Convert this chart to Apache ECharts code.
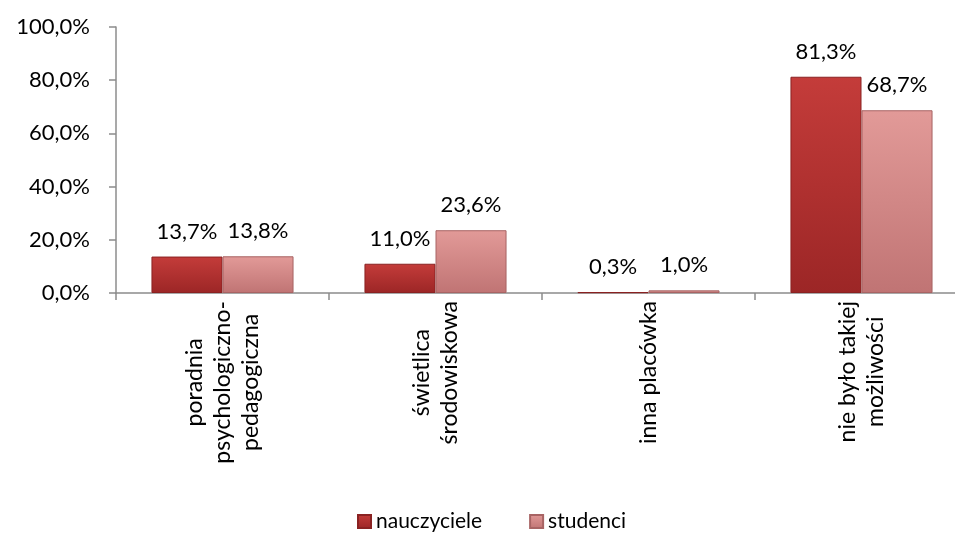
<!DOCTYPE html>
<html>
<head>
<meta charset="utf-8">
<script src="https://cdn.jsdelivr.net/npm/echarts@6/dist/echarts.min.js"></script>
<style>
  html, body { margin: 0; padding: 0; background: #fff; }
  #chart { width: 955px; height: 533px; }
</style>
</head>
<body>
<div id="chart"></div>
<script>
// dane
const categories = [
  'poradnia\npsychologiczno-\npedagogiczna',
  'świetlica\nśrodowiskowa',
  'inna placówka',
  'nie było takiej\nmożliwości'
];
const nauczyciele = [13.7, 11.0, 0.3, 81.3];
const studenci = [13.8, 23.6, 1.0, 68.7];
const yTicks = [0, 20, 40, 60, 80, 100];

const FONT = 'Lato, "Open Sans", sans-serif';
const pct = (v) => v.toFixed(1).replace('.', ',') + '%';

const chart = echarts.init(document.getElementById('chart'));

function barColor(top, bottom) {
  return new echarts.graphic.LinearGradient(0, 0, 0, 1, [
    { offset: 0, color: top },
    { offset: 1, color: bottom }
  ]);
}

const dataLabel = {
  show: true,
  position: 'top',
  distance: 14,
  color: '#000',
  fontSize: 22,
  fontFamily: FONT,
  formatter: (p) => pct(p.value)
};

chart.setOption({
  animation: false,
  textStyle: { fontFamily: FONT },
  grid: { left: 116, top: 27, width: 852, bottom: 240, outerBoundsMode: 'none', containLabel: false },
  legend: {
    bottom: -4,
    left: 352,
    itemWidth: 13,
    itemHeight: 13,
    itemGap: 47,
    icon: 'rect',
    textStyle: { fontSize: 21, color: '#000', fontFamily: FONT },
    data: ['nauczyciele', 'studenci']
  },
  xAxis: {
    type: 'category',
    data: categories,
    axisLine: { lineStyle: { color: '#8c8c8c', width: 1.5 } },
    axisTick: { show: true, length: 7, lineStyle: { color: '#8c8c8c', width: 1.5 } },
    axisLabel: {
      rotate: 90,
      margin: 8,
      interval: 0,
      color: '#000',
      fontSize: 23,
      lineHeight: 28,
      fontFamily: FONT,
      formatter: (v) => v.split('\n').map((l) => '{c|' + l + '}').join('\n'),
      rich: { c: { align: 'center', fontSize: 23, lineHeight: 28, color: '#000', fontFamily: FONT } }
    }
  },
  yAxis: {
    type: 'value',
    min: yTicks[0],
    max: yTicks[yTicks.length - 1],
    interval: 20,
    splitLine: { show: false },
    axisLine: { show: true, lineStyle: { color: '#8c8c8c', width: 1.5 } },
    axisTick: { show: true, length: 7, lineStyle: { color: '#8c8c8c', width: 1.5 } },
    axisLabel: {
      margin: 26,
      color: '#000',
      fontSize: 22,
      fontFamily: FONT,
      formatter: (v) => pct(v)
    }
  },
  series: [
    {
      name: 'nauczyciele',
      type: 'bar',
      data: nauczyciele,
      barGap: '0%',
      barCategoryGap: '33.3%',
      itemStyle: {
        color: barColor('#c43c3a', '#9c2626'),
        borderColor: '#8a2222',
        borderWidth: 1
      },
      label: dataLabel
    },
    {
      name: 'studenci',
      type: 'bar',
      data: studenci,
      itemStyle: {
        color: barColor('#e29a98', '#c07474'),
        borderColor: '#a86464',
        borderWidth: 1
      },
      label: dataLabel
    }
  ]
});
</script>
</body>
</html>
